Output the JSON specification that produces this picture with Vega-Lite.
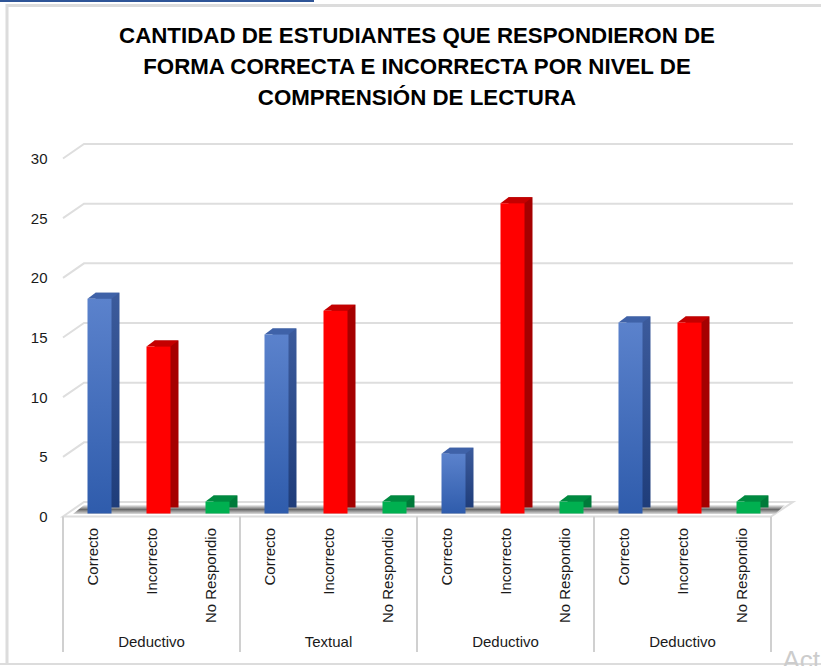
{
"$schema":"https://vega.github.io/schema/vega-lite/v6.json",
"width":708,"height":358,"autosize":{"type":"none"},
"padding":{"left":63,"top":155.5,"right":50,"bottom":152.5},
"background":"white",
"title":{"text":["CANTIDAD DE ESTUDIANTES QUE RESPONDIERON DE","FORMA CORRECTA E INCORRECTA POR NIVEL DE","COMPRENSIÓN DE LECTURA"],"font":"Liberation Sans","fontSize":22.3,"fontWeight":"bold","color":"#000000","lineHeight":31,"anchor":"middle","offset":-115},
"config":{"view":{"stroke":null},"font":"Liberation Sans"},
"data":{"values":[
{"clave":"1|Correcto","grupo":"Deductivo","respuesta":"Correcto","cantidad":18},
{"clave":"1|Incorrecto","grupo":"Deductivo","respuesta":"Incorrecto","cantidad":14},
{"clave":"1|No Respondio","grupo":"Deductivo","respuesta":"No Respondio","cantidad":1},
{"clave":"2|Correcto","grupo":"Textual","respuesta":"Correcto","cantidad":15},
{"clave":"2|Incorrecto","grupo":"Textual","respuesta":"Incorrecto","cantidad":17},
{"clave":"2|No Respondio","grupo":"Textual","respuesta":"No Respondio","cantidad":1},
{"clave":"3|Correcto","grupo":"Deductivo","respuesta":"Correcto","cantidad":5},
{"clave":"3|Incorrecto","grupo":"Deductivo","respuesta":"Incorrecto","cantidad":26},
{"clave":"3|No Respondio","grupo":"Deductivo","respuesta":"No Respondio","cantidad":1},
{"clave":"4|Correcto","grupo":"Deductivo","respuesta":"Correcto","cantidad":16},
{"clave":"4|Incorrecto","grupo":"Deductivo","respuesta":"Incorrecto","cantidad":16},
{"clave":"4|No Respondio","grupo":"Deductivo","respuesta":"No Respondio","cantidad":1}
]},
"encoding":{
"x":{"field":"clave","type":"nominal","title":null,"sort":null,
"scale":{"domain":["1|Correcto","1|Incorrecto","1|No Respondio","2|Correcto","2|Incorrecto","2|No Respondio","3|Correcto","3|Incorrecto","3|No Respondio","4|Correcto","4|Incorrecto","4|No Respondio"],"paddingInner":0,"paddingOuter":0},
"axis":{"domain":false,"ticks":false,"grid":false,"labelAngle":270,"labelAlign":"right","labelBaseline":"middle","labelPadding":14,"labelFont":"Liberation Sans","labelFontSize":15,"labelColor":"#1a1a1a","labelOverlap":false,"labelBound":false,"labelExpr":"split(datum.label,'|')[1]"}},
"y":{"field":"cantidad","type":"quantitative","title":null,
"scale":{"domain":[0,30],"nice":false,"zero":false},
"axis":{"values":[0,5,10,15,20,25,30],"domain":false,"ticks":false,"grid":false,"labelPadding":16,"labelOffset":3,"labelFont":"Liberation Sans","labelFontSize":15,"labelColor":"#1a1a1a"}}
},
"layer":[
{"data":{"values":[{"nivel":0}]},
 "mark":{"type":"point","filled":false,"size":4,"opacity":1,"stroke":"#dcdcdc","strokeWidth":3,"shape":"M-56,151 L-56,-508 L770,-508"},
 "encoding":{"x":{"datum":"1|Correcto","bandPosition":0,"title":null},"y":{"field":"nivel","type":"quantitative","title":null}}},
{"data":{"values":[{"nivel":0}]},
 "mark":{"type":"point","filled":false,"size":4,"opacity":1,"stroke":"#dcdcdc","strokeWidth":2,"shape":"M-63,150.5 L770,150.5"},
 "encoding":{"x":{"datum":"1|Correcto","bandPosition":0,"title":null},"y":{"field":"nivel","type":"quantitative","title":null}}},
{"data":{"values":[{"nivel":0}]},
 "mark":{"type":"point","filled":false,"size":4,"opacity":1,"stroke":"#2f5597","strokeWidth":3,"shape":"M-63,-513 L251,-513"},
 "encoding":{"x":{"datum":"1|Correcto","bandPosition":0,"title":null},"y":{"field":"nivel","type":"quantitative","title":null}}},
{"data":{"values":[{"nivel":5},{"nivel":10},{"nivel":15},{"nivel":20},{"nivel":25},{"nivel":30}]},
 "mark":{"type":"point","filled":false,"size":4,"opacity":1,"stroke":"#dedede","strokeWidth":2,"shape":"M0,3 L21,-11.5 L730,-11.5"},
 "encoding":{"x":{"datum":"1|Correcto","bandPosition":0,"title":null},"y":{"field":"nivel","type":"quantitative","title":null}}},
{"data":{"values":[{"nivel":0}]},
 "mark":{"type":"point","filled":false,"size":4,"opacity":1,"stroke":"#dedede","strokeWidth":2,"shape":"M0,3 L21,-11.5 L730,-11.5 L708,3 Z"},
 "encoding":{"x":{"datum":"1|Correcto","bandPosition":0,"title":null},"y":{"field":"nivel","type":"quantitative","title":null}}},
{"data":{"values":[{"nivel":0}]},
 "mark":{"type":"point","filled":true,"size":4,"opacity":1,"strokeWidth":0,"shape":"M10,0.5 L21,-8.5 L722,-8.5 L712,0.5 Z",
  "color":{"gradient":"linear","x1":0,"y1":0,"x2":0,"y2":1,"stops":[{"offset":0,"color":"#f2f2f2"},{"offset":0.5,"color":"#6a6a6a"},{"offset":1,"color":"#dcdcdc"}]}},
 "encoding":{"x":{"datum":"1|Correcto","bandPosition":0,"title":null},"y":{"field":"nivel","type":"quantitative","title":null}}},
{"transform":[{"filter":"datum.respuesta==='Correcto'"}],
 "mark":{"type":"bar","width":24,"xOffset":15,"yOffset":-6,"y2Offset":-6,"color":{"gradient":"linear","x1":0,"y1":0,"x2":0,"y2":1,"stops":[{"offset":0,"color":"#3c5b9c"},{"offset":1,"color":"#1f3d7a"}]}}},
{"transform":[{"filter":"datum.respuesta==='Incorrecto'"}],
 "mark":{"type":"bar","width":24,"xOffset":15,"yOffset":-6,"y2Offset":-6,"color":"#a50000"}},
{"transform":[{"filter":"datum.respuesta==='No Respondio'"}],
 "mark":{"type":"bar","width":24,"xOffset":15,"yOffset":-6,"y2Offset":-6,"color":"#007a3a"}},
{"transform":[{"filter":"datum.respuesta==='Correcto'"}],
 "mark":{"type":"point","filled":true,"opacity":1,"size":4,"xOffset":7,"strokeWidth":0,"shape":"M-12,0 L12,0 L20,-6 L-4,-6 Z","color":"#3f62a8"}},
{"transform":[{"filter":"datum.respuesta==='Incorrecto'"}],
 "mark":{"type":"point","filled":true,"opacity":1,"size":4,"xOffset":7,"strokeWidth":0,"shape":"M-12,0 L12,0 L20,-6 L-4,-6 Z","color":"#c40000"}},
{"transform":[{"filter":"datum.respuesta==='No Respondio'"}],
 "mark":{"type":"point","filled":true,"opacity":1,"size":4,"xOffset":7,"strokeWidth":0,"shape":"M-12,0 L12,0 L20,-6 L-4,-6 Z","color":"#008a40"}},
{"transform":[{"filter":"datum.respuesta==='Correcto'"}],
 "mark":{"type":"bar","width":24,"xOffset":7,"color":{"gradient":"linear","x1":0,"y1":0,"x2":0,"y2":1,"stops":[{"offset":0,"color":"#5b82cc"},{"offset":1,"color":"#2f5cac"}]}}},
{"transform":[{"filter":"datum.respuesta==='Incorrecto'"}],
 "mark":{"type":"bar","width":24,"xOffset":7,"color":"#ff0000"}},
{"transform":[{"filter":"datum.respuesta==='No Respondio'"}],
 "mark":{"type":"bar","width":24,"xOffset":7,"color":"#00b050"}},
{"data":{"values":[{"clave":"1|Correcto","nivel":-0.25,"hasta":-11.6},{"clave":"2|Correcto","nivel":-0.25,"hasta":-11.6},{"clave":"3|Correcto","nivel":-0.25,"hasta":-11.6},{"clave":"4|Correcto","nivel":-0.25,"hasta":-11.6}]},
 "mark":{"type":"rule","stroke":"#d0d0d0","strokeWidth":2},
 "encoding":{"x":{"field":"clave","type":"nominal","bandPosition":0,"title":null},"y":{"field":"nivel","type":"quantitative","title":null},"y2":{"field":"hasta"}}},
{"data":{"values":[{"clave":"4|No Respondio","nivel":-0.25,"hasta":-11.6}]},
 "mark":{"type":"rule","stroke":"#d0d0d0","strokeWidth":2},
 "encoding":{"x":{"field":"clave","type":"nominal","bandPosition":1,"title":null},"y":{"field":"nivel","type":"quantitative","title":null},"y2":{"field":"hasta"}}},
{"data":{"values":[{"clave":"1|Incorrecto","grupo":"Deductivo","nivel":-10.75},{"clave":"2|Incorrecto","grupo":"Textual","nivel":-10.75},{"clave":"3|Incorrecto","grupo":"Deductivo","nivel":-10.75},{"clave":"4|Incorrecto","grupo":"Deductivo","nivel":-10.75}]},
 "mark":{"type":"text","font":"Liberation Sans","fontSize":15,"color":"#1a1a1a","baseline":"middle"},
 "encoding":{"x":{"field":"clave","type":"nominal","title":null},"y":{"field":"nivel","type":"quantitative","title":null},"text":{"field":"grupo"}}},
{"data":{"values":[{"clave":"4|No Respondio","marca":"Act","nivel":-13}]},
 "mark":{"type":"text","font":"Liberation Sans","fontSize":26,"color":"#cccccc","align":"left","baseline":"alphabetic","dx":41},
 "encoding":{"x":{"field":"clave","type":"nominal","title":null},"y":{"field":"nivel","type":"quantitative","title":null},"text":{"field":"marca"}}}
]
}
